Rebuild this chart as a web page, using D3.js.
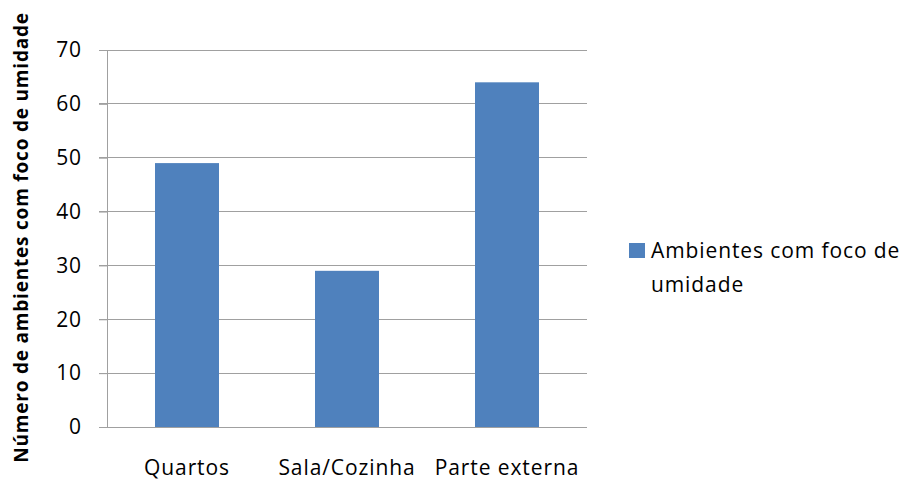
<!DOCTYPE html>
<html><head><meta charset="utf-8">
<script src="https://cdn.jsdelivr.net/npm/d3@7"></script>
<style>body{margin:0;background:#fff}svg{display:block}text{font-family:"Open Sans",sans-serif;fill:#000}</style>
</head><body><svg id="c" width="909" height="481"></svg>
<script>
const categories = ["Quartos", "Sala/Cozinha", "Parte externa"];
const values = [49, 29, 64];
const yTicks = [0, 10, 20, 30, 40, 50, 60, 70];
const seriesName = "Ambientes com foco de umidade";
const yTitle = "Número de ambientes com foco de umidade";

const svg = d3.select("#c");
const L = 107, R = 587, T = 50, B = 427;
const x = d3.scaleBand().domain(categories).range([L, R]).paddingInner(0.6).paddingOuter(0.3);
const y = d3.scaleLinear().domain([0, 70]).range([B, T]);
const color = "#4f81bd";
const fs = "21px", ls = "0.9px";

// gridlines
svg.append("g").selectAll("line").data(yTicks).join("line")
  .attr("x1", L - 8).attr("x2", R).attr("y1", d => y(d)).attr("y2", d => y(d))
  .attr("stroke", "#a0a0a0").attr("stroke-width", 1).attr("shape-rendering", "crispEdges");

// y axis
const ya = svg.append("g").attr("transform", `translate(${L},0)`)
  .call(d3.axisLeft(y).tickValues(yTicks).tickSize(8).tickPadding(17));
ya.select(".domain").attr("stroke", "#a0a0a0").attr("shape-rendering", "crispEdges");
ya.selectAll(".tick line").attr("stroke", "#a0a0a0");
ya.selectAll("text").style("font-size", fs).style("letter-spacing", ls).style("font-family", "Open Sans").attr("fill", "#000");

// bars
svg.append("g").selectAll("rect").data(values).join("rect")
  .attr("x", (d, i) => x(categories[i])).attr("width", x.bandwidth())
  .attr("y", d => y(d)).attr("height", d => B - y(d)).attr("fill", color);

// x axis
const xa = svg.append("g").attr("transform", `translate(0,${B})`)
  .call(d3.axisBottom(x).tickSize(0).tickPadding(33));
xa.select(".domain").attr("stroke", "#a0a0a0").attr("d", `M${L - 8},0.5H${R}`).attr("shape-rendering", "crispEdges");
xa.selectAll("text").style("font-size", fs).style("letter-spacing", ls).style("font-family", "Open Sans").attr("fill", "#000");

// y title
svg.append("text").attr("transform", `translate(28,237.5) rotate(-90)`)
  .attr("text-anchor", "middle").style("font-size", "19px").style("font-weight", "bold").style("letter-spacing", "0.8px")
  .text(yTitle);

// legend
const lg = svg.append("g");
lg.append("rect").attr("x", 629).attr("y", 243).attr("width", 16).attr("height", 15).attr("fill", color);
const words = seriesName.split(" ");
lg.append("text").attr("x", 651).attr("y", 258).style("font-size", fs).style("letter-spacing", ls).text(words.slice(0, 4).join(" "));
lg.append("text").attr("x", 651).attr("y", 292).style("font-size", fs).style("letter-spacing", ls).text(words.slice(4).join(" "));
</script></body></html>
